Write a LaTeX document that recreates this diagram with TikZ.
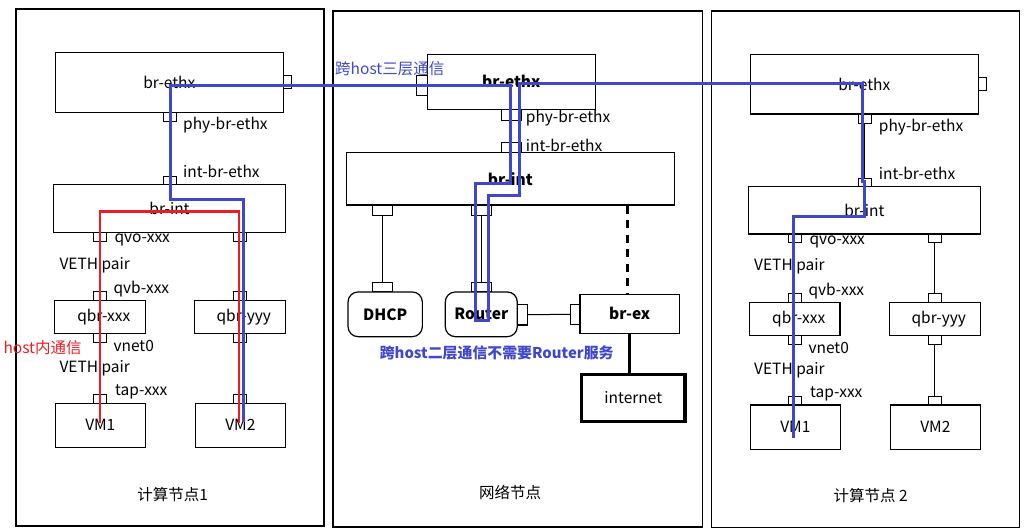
\documentclass[tikz,border=0pt]{standalone}
\usepackage{fontspec}
\setmainfont{Noto Sans CJK SC}
\usetikzlibrary{calc}
\definecolor{routeblue}{HTML}{3F48CC}
\definecolor{routered}{HTML}{ED1C24}

\begin{document}
\begin{tikzpicture}[x=1pt,y=-1pt,
  font=\fontsize{15.5}{17}\selectfont,
  bf/.style={font=\fontsize{15.5}{17}\selectfont\bfseries},
  panel/.style={draw, line width=1.3pt},
  sz/.style 2 args={minimum width=#1pt, minimum height=#2pt},
  dev/.style={draw, line width=1.2pt, inner sep=0pt, fill=white},
  devr/.style={dev, bf, rounded corners=10pt},
  port/.style={draw, line width=1.1pt, inner sep=0pt, fill=white, sz={13}{8.7}},
  vport/.style={port, sz={10}{20.3}},
  wport/.style={port, sz={20.4}{10.5}},
  tag/.style={anchor=west, inner sep=0pt},
  link/.style={line width=1pt},
  route/.style={line width=3pt, draw=routeblue},
  local/.style={line width=2.8pt, draw=routered}
]
\useasboundingbox (0,0) rectangle (1029,531);

% three hosts
\draw[panel] (16,9) rectangle (324,526);
\draw[panel] (333,11) rectangle (702.5,527);
\draw[panel] (711.3,11) rectangle (1019.3,527.7);

% ---------- compute node 1 ----------
\node[dev, sz={228}{60}] (Lethx) at (169.3,82.3) {br-ethx};
\node[port, sz={8.4}{12.6}] (Lethxp) at (287.5,82) {};
\node[port] (Lphy) at (169.8,116.7) {};
\node[port] (Lint) at (169.8,180.5) {};
\node[dev, sz={232.4}{48}] (Lbrint) at (169.5,208.3) {br-int};
\node[port] (Lqvo) at (99.8,236.7) {};
\node[port] (Lqvo2) at (239.8,236.7) {};
\node[port] (Lqvb) at (99.8,296) {};
\node[dev, sz={91}{33}] (Lqbrx) at (99.8,316.8) {\hspace{8pt}qbr-xxx};
\node[port] (Lvnet) at (99.8,337.7) {};
\node[port] (Ltap) at (99.8,398.8) {};
\node[dev, sz={90}{44}] (Lvm1) at (100.3,425.3) {VM1};
\node[port] (Lqbyt) at (239.8,296.2) {};
\node[dev, sz={91}{32.6}] (Lqbry) at (239.8,317) {\hspace{8pt}qbr-yyy};
\node[port] (Lqbyb) at (239.8,337.7) {};
\node[port] (Lvm2p) at (239.8,398.8) {};
\node[dev, sz={90}{44}] (Lvm2) at (240.3,425.3) {VM2};

\draw[link] (Lphy) -- (Lint);
\draw[link] (Lqvo) -- (Lqvb);
\draw[link] (Lvnet) -- (Ltap);
\draw[link] (Lqvo2) -- (Lqbyt);
\draw[link] (Lqbyb) -- (Lvm2p);

\node[tag] (Lt1) at (183,125) {phy-br-ethx};
\node[tag] (Lt2) at (183,171.7) {int-br-ethx};
\node[tag] (Lt3) at (114.3,240) {qvo-xxx};
\node[tag] (Lt4) at (59.3,265) {VETH pair};
\node[tag] (Lt5) at (113.3,289.3) {qvb-xxx};
\node[tag] (Lt6) at (113.3,346) {vnet0};
\node[tag] (Lt7) at (59.3,368.3) {VETH pair};
\node[tag] (Lt8) at (115,391.7) {tap-xxx};
\node (Ltitle) at (172.7,494.3) {计算节点1};

% ---------- network node ----------
\node[dev, bf, sz={168}{55}] (Methx) at (511.3,81.8) {br-ethx};
\node[vport, sz={11}{20.3}] (Methxp) at (421.8,85.2) {};
\node[wport] (Mphy) at (511.5,114.8) {};
\node[wport, sz={20.4}{10}] (Mint) at (511.5,147.3) {};
\node[dev, bf, sz={328}{52.7}] (Mbrint) at (510.3,178.7) {br-int};
\node[wport] (Mdp1) at (382.3,210.5) {};
\node[wport] (Mrp1) at (481.5,210.5) {};
\node[wport, sz={20}{9.3}] (Mdp2) at (382.3,287.3) {};
\node[devr, sz={74.3}{44.7}] (Mdhcp) at (385.2,314.3) {DHCP};
\node[wport, sz={20.4}{9.3}] (Mrp2) at (481.5,287.3) {};
\node[devr, sz={72}{44.7}] (Mrouter) at (481.3,314.3) {Router};
\node[vport] (Mrp3) at (522.3,314.8) {};
\node[vport, sz={9.7}{20.3}] (Mexp) at (575.2,314.2) {};
\node[dev, bf, sz={99.3}{39}] (Mbrex) at (629.7,313.8) {br-ex};
\node[draw, line width=3.3pt, inner sep=0pt, sz={103.3}{47.4}] (Mnet) at (633.3,398) {internet};

\draw[link] (Mphy) -- (Mint);
\draw[link] (Mdp1) -- (Mdp2);
\draw[link] (Mrp1) -- (Mrp2);
\draw[link] (Mrp3) -- (Mexp);
\draw[line width=3pt, dash pattern=on 8pt off 6.5pt] (Mbrint.south -| 627.3,0) -- (Mbrex.north -| 627.3,0);
\draw[line width=3.3pt] (Mbrex.south -| 629.3,0) -- (Mnet.north -| 629.3,0);

\node[tag] (Mt1) at (525.7,117.7) {phy-br-ethx};
\node[tag] (Mt2) at (525.7,145) {int-br-ethx};
\node[tag, text=routeblue] (Mt3) at (335,68.3) {跨host三层通信};
\node[text=routeblue, font=\fontsize{14.9}{17}\selectfont\bfseries] (Mt4) at (496.7,353.3) {跨host二层通信不需要Router服务};
\node (Mtitle) at (510,492.7) {网络节点};

% ---------- compute node 2 ----------
\node[dev, sz={228}{59.7}] (Rethx) at (864.3,84.2) {br-ethx};
\node[port, sz={8}{12.6}] (Rethxp) at (982.3,84) {};
\node[port, sz={13}{9.3}] (Rphy) at (864.8,118.7) {};
\node[port, sz={13}{8}] (Rint) at (864.8,182.3) {};
\node[dev, sz={232}{47.7}] (Rbrint) at (864.3,210.2) {br-int};
\node[port] (Rqvo) at (794.8,238.5) {};
\node[port] (Rqvo2) at (934.8,238.5) {};
\node[port] (Rqvb) at (794.8,297.8) {};
\node[dev, sz={90.7}{33}] (Rqbrx) at (794.7,318.8) {\hspace{8pt}qbr-xxx};
\node[port] (Rvnet) at (794.8,339.8) {};
\node[port] (Rtap) at (794.8,400.7) {};
\node[dev, sz={90}{44.3}] (Rvm1) at (795.3,427.2) {VM1};
\node[port] (Rqbyt) at (934.8,298) {};
\node[dev, sz={91}{32.6}] (Rqbry) at (934.8,319) {\hspace{8pt}qbr-yyy};
\node[port] (Rqbyb) at (934.8,339.8) {};
\node[port] (Rvm2p) at (934.8,400.7) {};
\node[dev, sz={90}{44.3}] (Rvm2) at (935.3,427.2) {VM2};

\draw[link] (Rphy) -- (Rint);
\draw[link] (Rqvo) -- (Rqvb);
\draw[link] (Rvnet) -- (Rtap);
\draw[link] (Rqvo2) -- (Rqbyt);
\draw[link] (Rqbyb) -- (Rvm2p);

\node[tag] (Rt1) at (878.7,126.7) {phy-br-ethx};
\node[tag] (Rt2) at (878.7,173.3) {int-br-ethx};
\node[tag] (Rt3) at (809.3,241.7) {qvo-xxx};
\node[tag] (Rt4) at (754,266.7) {VETH pair};
\node[tag] (Rt5) at (808.3,291) {qvb-xxx};
\node[tag] (Rt6) at (808.3,347.7) {vnet0};
\node[tag] (Rt7) at (754,370.7) {VETH pair};
\node[tag] (Rt8) at (810,394) {tap-xxx};
\node (Rtitle) at (870.7,495.7) {计算节点 2};

% ---------- traffic paths ----------
% VM1 to VM2 inside one host
\draw[local] (100,423.3) -- (100,211.7) -- (239,211.7) -- (239,423);
\node[tag, text=routered] (Lhost) at (3.3,347.3) {host内通信};

% VM2 on host 1 through the router to VM1 on host 2
\draw[route] (243.7,421.7) -- (243.7,199.3) -- (170.7,199.3) -- (170.7,85.5)
  -- (510,85.5) -- (510,183.3) -- (475.7,183.3) -- (475.7,320)
  -- (488,320) -- (488,195) -- (519,195) -- (519,83)
  -- (862.3,83) -- (862.3,181.7) -- (864.3,181.7) -- (864.3,216.7)
  -- (793.3,216.7) -- (793.3,438.3);

\end{tikzpicture}
\end{document}
